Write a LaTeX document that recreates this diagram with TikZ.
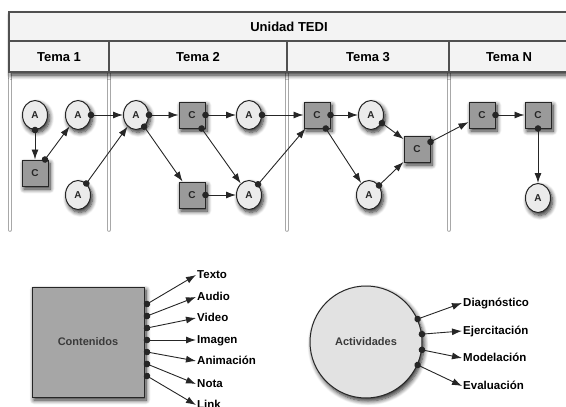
\documentclass[tikz,border=0pt]{standalone}
\usepackage{fontspec}
\setmainfont{Liberation Sans}
\usetikzlibrary{arrows.meta,shadows.blur,shapes.geometric}

\definecolor{ink}{HTML}{262626}
\definecolor{rule}{HTML}{505050}
\definecolor{headfill}{HTML}{F3F3F3}
\definecolor{lanegray}{HTML}{A8A8A8}
\definecolor{actfill}{HTML}{EBEBEB}
\definecolor{cfill}{HTML}{9A9A9A}
\definecolor{boxfill}{HTML}{A6A6A6}
\definecolor{circfill}{HTML}{E2E2E2}
\definecolor{softtext}{HTML}{3A3A3A}

\begin{document}
\begin{tikzpicture}[x=1pt,y=-1pt,
  dropshadow/.style={blur shadow={shadow xshift=2pt,shadow yshift=-3pt,
      shadow blur radius=4.5pt,shadow blur steps=8,shadow opacity=85}},
  anode/.style={ellipse,draw=ink,line width=1pt,fill=actfill,
      minimum width=25pt,minimum height=29pt,inner sep=0pt,
      font=\bfseries\fontsize{10}{10}\selectfont,text=ink,dropshadow},
  cnode/.style={rectangle,draw=ink,line width=1pt,fill=cfill,
      minimum size=26pt,inner sep=0pt,
      font=\bfseries\fontsize{10}{10}\selectfont,text=ink,dropshadow},
  flow/.style={draw=ink,line width=0.9pt,
      {Circle[length=6.5pt]}-{Latex[length=10pt,width=7pt]},shorten <=-3.25pt},
  lane/.style={draw=lanegray,line width=0.8pt,double=white,double distance=2pt,line cap=round},
  headtext/.style={font=\bfseries\fontsize{13}{14}\selectfont,text=black},
  outlabel/.style={anchor=west,inner sep=1pt,text height=8.5pt,text depth=2pt,
      font=\bfseries\fontsize{11.5}{12}\selectfont,text=black},
]
\useasboundingbox (0,0) rectangle (566,407);
\clip (0,0) rectangle (566,407);

% swim lanes below the header
\draw[lane] (10,72) -- (10,230);
\draw[lane] (109,72) -- (109,230);
\draw[lane] (287,72) -- (287,230);
\draw[lane] (449,72) -- (449,230);

% header table
\draw[draw=rule,line width=1.2pt,fill=headfill,dropshadow] (9,12) rectangle (570,72);
\draw[draw=rule,line width=1.2pt] (9,41) -- (570,41);
\draw[draw=rule,line width=1.2pt] (109,41) -- (109,72);
\draw[draw=rule,line width=1.2pt] (287,41) -- (287,72);
\draw[draw=rule,line width=1.2pt] (449,41) -- (449,72);
\node[headtext] (unit) at (289,26.5) {Unidad TEDI};
\node[headtext] (tema1) at (59,57) {Tema 1};
\node[headtext] (tema2) at (198,57) {Tema 2};
\node[headtext] (tema3) at (368,57) {Tema 3};
\node[headtext] (temaN) at (509,57) {Tema N};

% Tema 1
\node[anode] (a1) at (35,115) {A};
\node[anode] (a2) at (78,115) {A};
\node[cnode] (c1) at (35,173) {C};
\node[anode] (a3) at (78,195) {A};
% Tema 2
\node[anode] (a4) at (136,115) {A};
\node[cnode] (c2) at (192,115) {C};
\node[anode] (a5) at (249,115) {A};
\node[cnode] (c3) at (192,195) {C};
\node[anode] (a6) at (249,195) {A};
% Tema 3
\node[cnode] (c4) at (317,115) {C};
\node[anode] (a7) at (371,115) {A};
\node[cnode] (c5) at (417,149) {C};
\node[anode] (a8) at (369,195) {A};
% Tema N
\node[cnode] (c6) at (482,115) {C};
\node[cnode] (c7) at (538,115) {C};
\node[anode] (a9) at (538,198) {A};

% sequence connectors
\draw[flow] (a1) -- (c1);
\draw[flow] (c1) -- (a2);
\draw[flow] (a2) -- (a4);
\draw[flow] (a3) -- (a4);
\draw[flow] (a4) -- (c2);
\draw[flow] (a4) -- (c3);
\draw[flow] (c2) -- (a5);
\draw[flow] (c2) -- (a6);
\draw[flow] (c3) -- (a6);
\draw[flow] (a5) -- (c4);
\draw[flow] (a6) -- (c4);
\draw[flow] (c4) -- (a7);
\draw[flow] (c4) -- (a8);
\draw[flow] (a7) -- (c5);
\draw[flow] (a8) -- (c5);
\draw[flow] (c5) -- (c6);
\draw[flow] (c6) -- (c7);
\draw[flow] (c7) -- (a9);

% content types
\node[rectangle,draw=ink,line width=1pt,fill=boxfill,minimum width=112pt,
  minimum height=110pt,font=\bfseries\fontsize{11}{12}\selectfont,text=softtext,
  dropshadow] (cont) at (88,342) {Contenidos};
\node[outlabel] (t1) at (196,275) {Texto};
\node[outlabel] (t2) at (196,297) {Audio};
\node[outlabel] (t3) at (196,318) {Video};
\node[outlabel] (t4) at (196,340) {Imagen};
\node[outlabel] (t5) at (196,361) {Animación};
\node[outlabel] (t6) at (196,384) {Nota};
\node[outlabel] (t7) at (196,405) {Link};
\foreach \i/\yy in {1/304,2/316,3/328,4/340,5/352,6/364,7/376}{
  \coordinate (k\i) at (147,\yy);
  \draw[flow] (k\i) -- (t\i.west);
}

% activity types
\node[circle,draw=ink,line width=1pt,fill=circfill,minimum size=112pt,
  font=\bfseries\fontsize{11}{12}\selectfont,text=softtext,
  dropshadow] (act) at (366,342) {Actividades};
\node[outlabel] (d1) at (462,303) {Diagnóstico};
\node[outlabel] (d2) at (462,331) {Ejercitación};
\node[outlabel] (d3) at (462,358) {Modelación};
\node[outlabel] (d4) at (462,386) {Evaluación};
\draw[flow] (act.24) -- (d1.west);
\draw[flow] (act.8) -- (d2.west);
\draw[flow] (act.-8) -- (d3.west);
\draw[flow] (act.-24) -- (d4.west);
\end{tikzpicture}
\end{document}
